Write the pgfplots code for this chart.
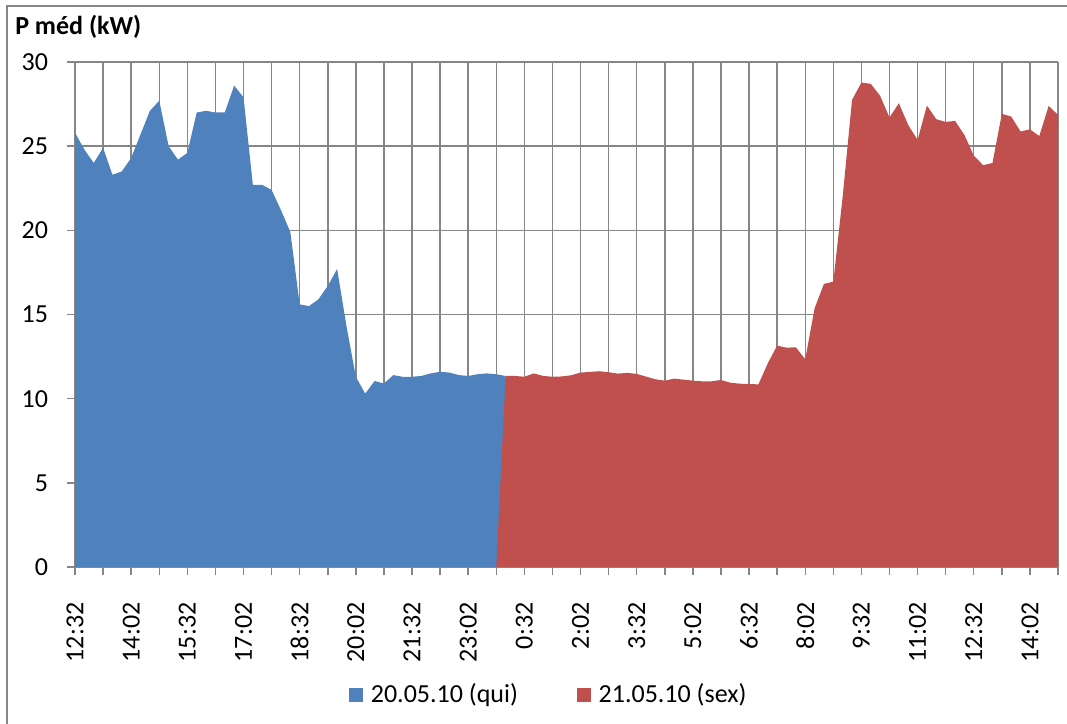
\documentclass[border=0pt]{standalone}
\usepackage{fontspec}
\setmainfont{Carlito}
\usepackage{pgfplots}
\pgfplotsset{compat=1.18}
\definecolor{sblue}{HTML}{4F81BD}
\definecolor{sred}{HTML}{C0504D}
\definecolor{gridc}{HTML}{868686}
\begin{document}
\fontsize{19.5}{23}\selectfont
\begin{tikzpicture}
\useasboundingbox (-56.25pt,-117.75pt) rectangle (744pt,425.25pt);
\begin{axis}[
  at={(0pt,0pt)}, anchor=south west,
  scale only axis, width=737.25pt, height=378.75pt,
  xmin=0, xmax=105, ymin=0, ymax=30,
  axis x line*=bottom, axis y line*=left,
  axis line style={gridc, line width=1.1pt, -},
  grid=major, major grid style={gridc, line width=1.1pt},
  tick align=outside, major tick length=6pt,
  tick style={gridc, line width=1.1pt},
  xtick={0,3,...,105},
  xticklabels={{12:32},{},{14:02},{},{15:32},{},{17:02},{},{18:32},{},{20:02},{},{21:32},{},{23:02},{},{0:32},{},{2:02},{},{3:32},{},{5:02},{},{6:32},{},{8:02},{},{9:32},{},{11:02},{},{12:32},{},{14:02},{}},
  xticklabel style={yshift=-14pt, rotate=90, anchor=east, font=\fontsize{19.5}{23}\selectfont},
  ytick={0,5,...,30},
  yticklabel style={xshift=-7.5pt, font=\fontsize{19.5}{23}\selectfont},
  /pgf/number format/assume math mode=true,
  legend style={at={(0.4822,-0.2535)}, anchor=center, draw=none, fill=none,
    legend columns=2, font=\fontsize{19.5}{23}\selectfont,
    /tikz/every even column/.append style={column sep=42pt},
    cells={anchor=west}},
  legend image code/.code={\fill[#1] (0pt,-5.25pt) rectangle (10.5pt,5.25pt); \path (14.5pt,0pt);},
]
\addplot[fill=sblue, draw=none] coordinates {
(0,25.8)(1,24.8)(2,24.0)(3,24.9)(4,23.3)(5,23.5)(6,24.3)(7,25.7)(8,27.1)(9,27.7)
(10,25.0)(11,24.2)(12,24.6)(13,27.0)(14,27.1)(15,27.0)(16,27.0)(17,28.6)(18,27.9)(19,22.7)
(20,22.7)(21,22.4)(22,21.2)(23,19.9)(24,15.6)(25,15.5)(26,15.9)(27,16.7)(28,17.7)(29,14.3)
(30,11.3)(31,10.3)(32,11.05)(33,10.9)(34,11.4)(35,11.3)(36,11.3)(37,11.35)(38,11.5)(39,11.6)
(40,11.55)(41,11.4)(42,11.35)(43,11.45)(44,11.5)(45,11.45)(46,11.35)(47,0)
} \closedcycle;
\addlegendentry{20.05.10 (qui)}
\addplot[fill=sred, draw=none] coordinates {
(45,0)(46,11.35)(47,11.35)(48,11.3)(49,11.5)
(50,11.35)(51,11.3)(52,11.32)(53,11.39)(54,11.55)(55,11.59)(56,11.63)(57,11.57)(58,11.49)(59,11.53)
(60,11.47)(61,11.31)(62,11.15)(63,11.07)(64,11.19)(65,11.13)(66,11.07)(67,11.03)(68,11.03)(69,11.11)
(70,10.95)(71,10.89)(72,10.87)(73,10.85)(74,12.1)(75,13.15)(76,13.03)(77,13.05)(78,12.34)(79,15.37)
(80,16.82)(81,16.95)(82,22.0)(83,27.75)(84,28.78)(85,28.7)(86,27.99)(87,26.7)(88,27.55)(89,26.26)
(90,25.37)(91,27.41)(92,26.6)(93,26.44)(94,26.5)(95,25.67)(96,24.44)(97,23.87)(98,24.0)(99,26.92)
(100,26.76)(101,25.87)(102,26.0)(103,25.6)(104,27.39)(105,26.86)
} \closedcycle;
\addlegendentry{21.05.10 (sex)}
\end{axis}
\node[anchor=base west, font=\bfseries\fontsize{19.5}{23}\selectfont, inner sep=0pt] at (-45pt,399pt) {P méd (kW)};
\draw[gridc, line width=1pt] (-51pt,-130pt) -- (-51pt,420.75pt) -- (760pt,420.75pt);
\end{tikzpicture}
\end{document}
